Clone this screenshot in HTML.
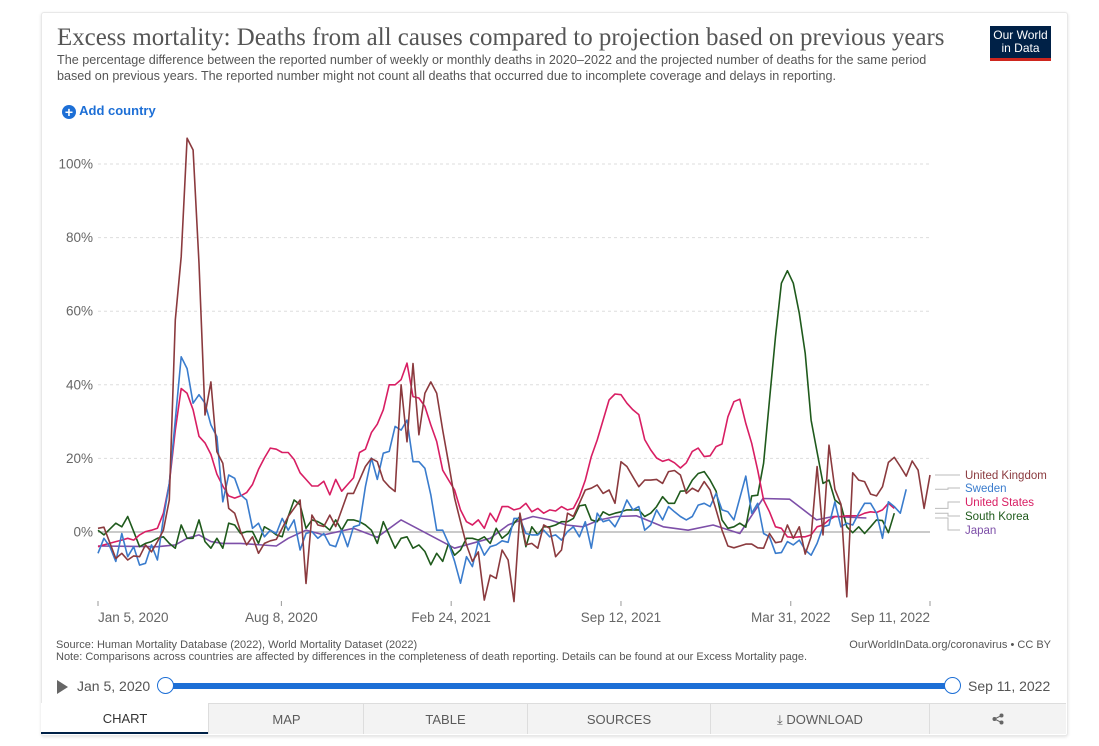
<!DOCTYPE html>
<html><head><meta charset="utf-8">
<style>
body{margin:0;background:#fff;font-family:"Liberation Sans",sans-serif;width:1099px;height:746px;overflow:hidden;position:relative}
.card{position:absolute;left:41px;top:12px;width:1025px;height:722px;border:1px solid #e8e8e8;border-radius:3px;box-shadow:0 1px 3px rgba(0,0,0,.12);background:#fff}
.abs{position:absolute;white-space:nowrap}
.tab{position:absolute;top:703px;height:31px;line-height:31px;text-align:center;font-size:13px;color:#5b5b5b;background:#f3f3f3;border-left:1px solid #ddd;border-top:1px solid #ddd;box-sizing:border-box}
</style></head><body>
<div class="card"></div>
<div class="abs" style="left:57px;top:24px;font-family:'Liberation Serif',serif;font-size:24.9px;color:#555">Excess mortality: Deaths from all causes compared to projection based on previous years</div>
<div class="abs" style="left:57px;top:52px;font-size:12.6px;line-height:16px;color:#555;white-space:normal;width:920px">The percentage difference between the reported number of weekly or monthly deaths in 2020–2022 and the projected number of deaths for the same period<br>based on previous years. The reported number might not count all deaths that occurred due to incomplete coverage and delays in reporting.</div>
<div class="abs" style="left:990px;top:26px;width:61px;background:#002147;border-bottom:3px solid #ce261e;color:#fff;font-size:12px;line-height:13px;text-align:center;padding-top:3px;height:29px">Our World<br>in Data</div>
<div class="abs" style="left:62px;top:103px;font-size:13px;color:#1d6fd6;font-weight:bold;line-height:16px"><span style="display:inline-block;width:14px;height:14px;border-radius:7px;background:#1d6fd6;color:#fff;text-align:center;line-height:14px;font-size:14px;vertical-align:-2px">+</span> Add country</div>

<svg id="chart" width="1099" height="746" style="position:absolute;left:0;top:0"></svg>

<div class="abs" style="left:56px;top:639px;font-size:11px;line-height:12px;color:#555">Source: Human Mortality Database (2022), World Mortality Dataset (2022)<br>Note: Comparisons across countries are affected by differences in the completeness of death reporting. Details can be found at our Excess Mortality page.</div>
<div class="abs" style="right:48px;top:639px;font-size:11px;color:#555">OurWorldInData.org/coronavirus • CC BY</div>
<div class="abs" style="left:57px;top:680px;width:0;height:0;border-left:11px solid #666;border-top:7px solid transparent;border-bottom:7px solid transparent"></div>
<div class="abs" style="left:77px;top:678px;font-size:14px;color:#555">Jan 5, 2020</div>
<div class="abs" style="left:165px;top:683px;width:787px;height:6px;background:#1d6fd6;border-radius:3px"></div>
<div class="abs" style="left:157px;top:677px;width:15px;height:15px;border-radius:9px;background:#fff;border:1.5px solid #1d6fd6"></div>
<div class="abs" style="left:944px;top:677px;width:15px;height:15px;border-radius:9px;background:#fff;border:1.5px solid #1d6fd6"></div>
<div class="abs" style="left:968px;top:678px;font-size:14px;color:#555">Sep 11, 2022</div>

<div class="tab" style="left:41px;width:168px;background:#fff;border-left:none;border-top:none;border-bottom:2px solid #002147;color:#333">CHART</div>
<div class="tab" style="left:208px;width:156px">MAP</div>
<div class="tab" style="left:363px;width:164px">TABLE</div>
<div class="tab" style="left:527px;width:183px">SOURCES</div>
<div class="tab" style="left:710px;width:219px">⤓ DOWNLOAD</div>
<div class="tab" style="left:929px;width:137px"><svg width="12" height="12" viewBox="0 0 12 12" style="vertical-align:-1px"><circle cx="9.5" cy="2.5" r="2" fill="#666"/><circle cx="2.5" cy="6" r="2" fill="#666"/><circle cx="9.5" cy="9.5" r="2" fill="#666"/><path d="M9.5 2.5L2.5 6L9.5 9.5" stroke="#666" fill="none"/></svg></div>

<script>
const yTicks=[0,20,40,60,80,100];
const xTickLabels=["Jan 5, 2020","Aug 8, 2020","Feb 24, 2021","Sep 12, 2021","Mar 31, 2022","Sep 11, 2022"];
const xTickDays=[0,216,416,616,816,980];
const ukWeeks=[0,1,3,4,5,6,7,8,9,10,11,12,13,14,15,16,17,18,19,20,21,22,23,24,25,26,27,28,29,30,31,32,34,35,36,37,38,39,40,41,42,43,44,45,46,47,48,49,50,51,52,53,54,55,56,57,58,59,60,61,62,63,64,65,66,67,68,69,70,71,72,73,74,75,76,77,78,79,80,81,82,83,84,85,86,87,88,89,90,91,92,93,94,95,96,97,98,99,100,101,102,103,104,105,106,107,108,109,110,111,112,113,114,115,116,117,118,119,120,121,122,123,124,125,126,127,128,129,130,131,132,133,134,135,136,137,138,139,140];
const ukVals=[1,1.3,-7.2,-5.8,-7.6,-6.5,-6.7,-3.5,-5.4,-2.6,0.5,8.7,57.6,74.8,107,103.8,73,31.8,40.8,21.8,18.7,6.4,5.1,0.1,-3.5,-1.3,-5.8,-3.1,-2.4,-2,1,4.2,8.7,-14,4.6,1.9,1.5,4.6,1.5,6,10.5,10.5,14.1,17.8,20,19.1,14.1,12.3,11,40,24.5,45.8,26.4,37.7,40.8,37.7,27.7,18.7,9.2,2.8,-3.5,-8,-5.4,-18.5,-11.7,-12.6,-4.9,-7.6,-18.9,5.1,-3.5,-3.1,-4.4,1.9,1,-6.7,-4.9,5.1,4.2,7.8,11.4,11.9,12.8,10.5,11.4,7.8,19.1,17.8,15,12.3,14.1,14.1,14.3,13.2,16.4,16.7,15.5,10.5,11.9,11,13.7,11.4,6,0.5,-3.8,-4.3,-3.8,-3.3,-3.3,-4.3,-4.4,-0.4,-2.9,-2.6,1.9,-1.7,1.4,-6,-1.3,17.8,-0.8,23.6,11.6,7.6,-17.6,16.1,14.1,13.7,10.3,9.8,12.3,18.9,20.3,17.8,15.2,19.3,16.8,6.4,15.5];
const usWeeks=[0,1,3,4,5,6,7,8,9,10,11,12,13,14,15,16,17,18,19,20,21,22,23,24,25,26,27,28,29,30,31,32,33,34,35,36,37,38,39,40,41,42,43,44,45,46,47,48,49,50,51,52,53,54,55,56,57,58,59,60,61,62,63,64,65,66,67,68,69,70,71,72,73,74,75,76,77,78,79,80,81,82,83,84,85,86,87,88,89,90,91,92,93,94,95,96,97,98,99,100,101,102,103,104,105,106,107,108,109,110,111,112,113,114,115,116,117,118,119,120,121,122,123,124,125,126,127,128,129,130,131,132,133,134];
const usVals=[-4,-3.5,-2.6,-2.2,-1.7,-2.2,-0.8,0.1,0.5,1,5.1,13.2,27.7,39,37.7,33.2,26,24.2,21.1,15.7,12.5,9.8,9.2,9.8,10.7,12.9,17,20.1,22.8,22.5,21.6,21.6,19.7,16.1,14.3,12.5,12.5,13.8,10.1,14.3,11.1,12.9,14.7,21.6,22.5,27,29.3,33.2,40,40,41.4,45.9,36.8,36.4,34.1,29.1,24.6,16.8,14.1,11.4,6,2.8,1.9,3.3,1,5.1,2.8,6.9,6.9,6,6.4,7.8,5.5,6.4,5.1,6,5.7,6.9,6,6.4,9.6,14.1,20.5,25,30.4,35.9,37.5,37.3,35,33.2,31.9,25.1,22.3,20.1,19.2,19.7,18.8,17.4,18.8,21.9,22.8,20.5,20.7,23.2,23.9,31.3,35.4,36.1,29.5,24.1,16.8,8.7,5.5,1.4,1,-1.3,-1.5,-1.3,-1.3,-0.8,1.4,1.9,3.3,4.2,4.2,4.4,4.4,4.4,5.1,5.5,5.3,6,7.8,6.4];
const seWeeks=[0,1,2,3,4,5,6,7,8,9,10,11,12,13,14,15,16,17,18,19,20,21,22,23,24,25,26,27,28,29,30,31,32,33,34,35,36,37,38,39,40,41,42,43,44,45,46,47,48,49,50,51,52,53,54,55,56,57,58,59,60,61,62,63,64,65,66,67,68,69,70,71,72,73,74,75,76,77,78,79,80,81,82,83,84,85,86,87,88,89,90,91,92,93,94,95,96,97,98,99,100,101,102,103,104,105,106,107,108,109,110,111,112,113,114,115,116,117,118,119,120,121,122,123,124,125,126,127,128,129,130,131,132,133,134,135,136];
const seVals=[-5.8,-1.7,-4,-8,-0.4,-6.7,-4,-9,-8.5,-3.5,-7.6,3.7,13.2,30.4,47.6,44.4,35,37.3,35,29.1,25.9,8.2,15.5,14.6,10.1,8.7,1,2.4,-1.3,0.5,-0.4,3.7,0.5,3.3,-4.9,-0.4,0.1,-1.7,-0.4,-3.5,-4,0.5,-4,1.4,1.9,12.3,20.1,14.3,21.4,21.9,28.7,27.7,30.4,19.1,19.1,17.3,10.1,0.5,0.5,-3.1,-8,-13.9,-6.7,-9.4,-2.6,-6.3,-4,-3.5,-2.4,-2.8,3.7,3.7,-0.4,-0.8,-0.8,0.5,-1.3,-0.8,-2.2,0.1,1.4,-1.3,2.8,-4.4,5.1,2.8,3.3,1.4,4.6,8.7,6,6.9,0.5,1.9,6,3.3,6.9,5.5,4.2,3.3,4.2,7.3,7.8,6.9,10.5,6,5.5,3.3,9.2,15.2,5.1,7.8,-0.4,-1.3,-5.8,-5.6,-2.6,-3.5,-2.2,-4.9,-6.3,-3.1,1.4,1.9,8.2,1.4,2.4,1.9,5.1,7.8,7.8,5.1,-1.7,8.2,6.9,5.1,11.6];
const krWeeks=[0,1,3,4,5,6,7,8,9,10,11,12,13,14,15,16,17,18,19,20,21,22,23,24,25,26,27,28,29,30,31,32,33,34,35,36,37,38,39,40,41,42,43,44,45,46,47,48,49,50,51,52,53,54,55,56,57,58,59,60,61,62,63,64,65,66,67,68,69,70,71,72,73,74,75,76,77,78,79,80,81,82,83,84,85,86,87,88,89,90,91,92,93,94,95,96,97,98,99,100,101,102,103,104,105,106,107,108,109,110,111,112,113,114,115,116,117,118,119,120,121,122,123,124,125,126,127,128,129,130,131,132,133,134];
const krVals=[0.5,-0.8,2.4,1.4,4.2,0.1,-4,-3.1,-2.6,-1.7,-1.3,-3.1,-4.4,1.9,-1.7,-1.7,3.3,-2.6,-4.4,-1.7,-4.4,2.4,1.9,-0.4,0.1,0.1,-3.1,1.4,0.5,-0.8,-1.3,4.2,8.7,7.4,1,3.3,2.8,1.9,0.5,3.3,0.5,3.3,3.3,2.8,1.9,0.5,-3.1,2.8,-0.8,-4.4,-1.7,-1.3,-4.4,-3.5,-5.3,-8.9,-5.8,-8,-3.1,-6.3,-4.9,-1.7,-1.7,-2.2,-1.3,-3.1,1,-1.7,-0.4,2.4,4.2,-4,1.4,-0.8,1.4,1.4,1.9,2.8,2.8,3.7,7.1,7.4,3.3,2.8,5.5,4.6,5.1,5.5,6,6,6,4.2,5.1,6.9,9.6,7.8,7.8,11.1,11.2,14.1,15.9,16.4,14.1,11.1,3.3,1,1.4,2.4,1.3,9.8,10,18.7,35.9,53.1,67.6,71,67.6,59.4,48.6,30.4,21.7,13.2,14.1,8.7,7.4,1.4,-0.2,1.4,-0.4,1.4,3.3,3.1,-0.2,5.1];
const jpWeeks=[0,10,13,15,17,19,21,24,30,32,35,38,43,47,51,60,66,69,70.4,73.2,76,78.8,81.6,84.4,87.2,90.6,92.3,95.1,99.3,103.5,108,111.9,116.4,120.9,123.7,129.3];
const jpVals=[-3.8,-4,-3.5,-1.7,-0.8,-2.6,-3.1,-3.1,-3.8,-1.7,0.5,-0.8,1,-1.4,3.3,-4.4,-1.7,1.9,2.8,4.2,3.3,1.9,1.4,3.3,4.2,4.4,3.3,1.4,0.5,1.9,-0.4,9.1,8.9,3.3,4.2,3.8];
const series=[
 {name:"United Kingdom",w:ukWeeks,v:ukVals,c:"#8b3a3e",ly:479},
 {name:"Sweden",w:seWeeks,v:seVals,c:"#3a7ccd",ly:492},
 {name:"United States",w:usWeeks,v:usVals,c:"#d81e63",ly:506},
 {name:"South Korea",w:krWeeks,v:krVals,c:"#1f5a1c",ly:520},
 {name:"Japan",w:jpWeeks,v:jpVals,c:"#7d4fa8",ly:534}
];
const X0=98,X1=930,Y0=532,PXPCT=3.68,DAYS=980;
function xDay(d){return X0+d*(X1-X0)/DAYS;}
function xWeek(w){return xDay(w*7);}
function yVal(v){return Y0-v*PXPCT;}
const svg=document.getElementById('chart');const NS="http://www.w3.org/2000/svg";
function mk(t,a){const e=document.createElementNS(NS,t);for(const k in a)e.setAttribute(k,a[k]);svg.appendChild(e);return e;}
yTicks.forEach(t=>{
 if(t!==0){const g=mk('line',{x1:X0,x2:X1,y1:yVal(t),y2:yVal(t),stroke:'#ddd','stroke-dasharray':'3,3'});
 
 }
 const tx=mk('text',{x:93,y:yVal(t)+4.5,'text-anchor':'end','font-size':'13.5','fill':'#666','font-family':'Liberation Sans, sans-serif'});
 tx.textContent=t+'%';
 
 
});
const zl=mk('line',{x1:X0,x2:X1,y1:Y0,y2:Y0,stroke:'#aaa','stroke-width':1.3});


xTickLabels.forEach((l,i)=>{
 const x=xDay(xTickDays[i]);
 const tk=mk('line',{x1:x,x2:x,y1:601,y2:606,stroke:'#999'});
 
 
 const anchor=i===0?'start':(i===xTickLabels.length-1?'end':'middle');
 const tx=mk('text',{x:x,y:622,'text-anchor':anchor,'font-size':'13.5','fill':'#666','font-family':'Liberation Sans, sans-serif'});
 tx.textContent=l;
 
 
});
series.slice().reverse().forEach(s=>{
 const d=s.w.map((w,i)=>(i?'L':'M')+xWeek(w).toFixed(1)+','+yVal(s.v[i]).toFixed(1)).join('');
 const p=mk('path',{d:d,fill:'none',stroke:s.c,'stroke-width':1.6,'stroke-linejoin':'round'});
 
 
});
series.forEach(s=>{
 const lastV=s.v[s.v.length-1];const ey=yVal(lastV);
 const c=mk('path',{d:`M935,${ey.toFixed(1)}L948,${ey.toFixed(1)}L948,${s.ly-4}L960,${s.ly-4}`,fill:'none',stroke:'#bbb','stroke-width':1});
 
 
 const t=mk('text',{x:965,y:s.ly,'font-size':'11.5','fill':s.c,'font-family':'Liberation Sans, sans-serif'});
 t.textContent=s.name;
 
 
});
</script>
</body></html>
